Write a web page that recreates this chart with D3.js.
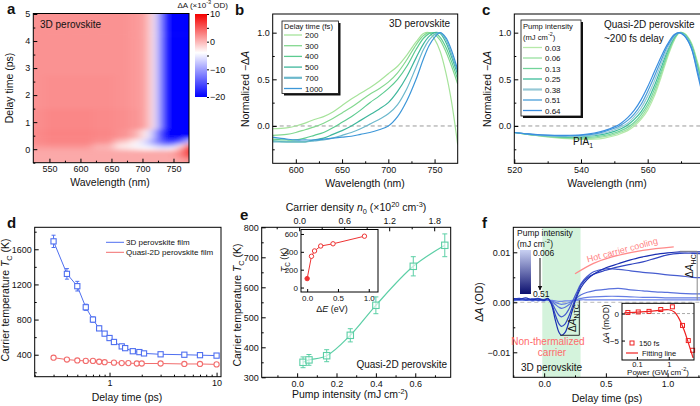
<!DOCTYPE html>
<html lang="en">
<head>
<meta charset="UTF-8">
<title>Hot carrier cooling</title>
<script src="https://d3js.org/d3.v7.min.js"></script>
<style>
  body { margin: 0; background: #fff; }
  svg text { font-family: "Liberation Sans", Arial, sans-serif; }
</style>
</head>
<body>
<svg id="fig"></svg>
<script>
// ---------- data ----------
// a: transient absorption map, x10^-3 OD
const mapWl = [524, 560, 600, 640, 670, 690, 705, 714, 720, 726, 735, 750, 762, 775];
const mapDelay = [-0.5, -0.1, 0.05, 0.15, 0.3, 0.5, 1, 2, 3.5, 5];
const mapRows = [
  [0.8, 0.8, 0.8, 0.8, 0.8, 0.8, 0.8, 0.8, 0.8, 0.8, 0.8, 0.8, 1.2, 2],
  [0.8, 0.8, 0.8, 0.8, 0.8, 0.8, 0.8, 0.8, 0.8, 0.8, 0.8, 1, 3, 7],
  [1.2, 1.2, 1.2, 0.2, -2, -3, -4, -4, -4.5, -5, -5, -4, 2, 10],
  [2, 2.2, 2.2, 0.5, -3, -4.5, -5.5, -6.5, -7.5, -8.5, -10, -10, -4, 6],
  [2.4, 2.8, 2.8, 2.2, -0.5, -3, -6, -9, -11, -13, -16, -17, -15, -8],
  [2.4, 2.8, 2.8, 2.6, 2, 0.5, -3, -6, -10, -14, -20, -21, -21, -20],
  [2.2, 2.6, 2.6, 2.4, 2.2, 1.8, 1.2, -1.5, -4.5, -10, -19, -22, -22, -22],
  [2, 2.2, 2.2, 2.2, 2, 1.6, 1.2, -1.5, -4.5, -10, -19, -22, -22, -22],
  [2, 2, 2, 2, 2, 1.6, 1.2, -1.5, -4.5, -10, -19, -22, -22, -22],
  [2, 2, 2, 2, 2, 1.6, 1.2, -1.5, -4.5, -10, -19, -22, -22, -22]
];

// b: normalized spectra, 3D perovskite
const specWlB = [575, 590, 600, 610, 620, 630, 640, 650, 660, 670, 680, 690, 700, 710, 720, 730, 738, 744, 750, 756, 762, 768, 775];
const delaysB = ["200", "300", "400", "500", "700", "1000"];
const colorsB = ["#a6e39b", "#84d890", "#5ccb90", "#3fb79c", "#6cb8cc", "#3d97d8"];
const specB = [
  [-0.03, -0.02, 0.0, 0.03, 0.07, 0.1, 0.15, 0.22, 0.29, 0.35, 0.41, 0.48, 0.56, 0.64, 0.76, 0.9, 0.99, 1.0, 0.93, 0.8, 0.58, 0.28, -0.2],
  [-0.1, -0.09, -0.07, -0.04, -0.01, 0.03, 0.08, 0.14, 0.2, 0.27, 0.34, 0.4, 0.47, 0.57, 0.71, 0.87, 0.97, 1.0, 0.98, 0.92, 0.8, 0.65, 0.45],
  [-0.14, -0.15, -0.15, -0.13, -0.1, -0.07, -0.02, 0.04, 0.1, 0.17, 0.25, 0.32, 0.4, 0.5, 0.64, 0.82, 0.94, 0.99, 1.0, 0.95, 0.85, 0.7, 0.5],
  [-0.16, -0.17, -0.17, -0.17, -0.15, -0.13, -0.09, -0.05, 0.0, 0.06, 0.12, 0.18, 0.25, 0.37, 0.53, 0.73, 0.88, 0.96, 1.0, 0.99, 0.9, 0.75, 0.55],
  [-0.17, -0.17, -0.17, -0.17, -0.16, -0.15, -0.13, -0.1, -0.07, -0.03, 0.02, 0.07, 0.13, 0.23, 0.4, 0.63, 0.82, 0.92, 0.98, 1.0, 0.93, 0.78, 0.58],
  [-0.12, -0.14, -0.15, -0.15, -0.15, -0.14, -0.13, -0.12, -0.11, -0.09, -0.07, -0.04, 0.0, 0.1, 0.27, 0.5, 0.72, 0.86, 0.95, 1.0, 0.95, 0.82, 0.6]
];

// c: normalized spectra, quasi-2D perovskite, ~200 fs
const specWlC = [520, 524, 528, 532, 536, 540, 544, 547, 550, 552, 554, 556, 558, 560, 562, 564, 566, 568, 569.5, 571, 573, 575, 576.5];
const pumpC = ["0.03", "0.06", "0.13", "0.25", "0.38", "0.51", "0.64"];
const colorsC = ["#b6e9a9", "#98e0a0", "#72d49a", "#3dbd9a", "#96c8d6", "#4a9ed8", "#3a8ee0"];
const specC = [
  [-0.07, -0.09, -0.11, -0.125, -0.137, -0.144, -0.142, -0.13, -0.105, -0.08, -0.05, 0.0, 0.07, 0.17, 0.32, 0.52, 0.74, 0.92, 1.0, 0.99, 0.9, 0.68, 0.5],
  [-0.07, -0.09, -0.107, -0.121, -0.131, -0.135, -0.13, -0.115, -0.09, -0.065, -0.035, 0.02, 0.09, 0.2, 0.35, 0.55, 0.76, 0.93, 1.0, 0.99, 0.89, 0.66, 0.47],
  [-0.07, -0.09, -0.105, -0.117, -0.124, -0.126, -0.118, -0.102, -0.075, -0.05, -0.015, 0.04, 0.12, 0.23, 0.39, 0.58, 0.78, 0.94, 1.0, 0.985, 0.88, 0.64, 0.44],
  [-0.07, -0.088, -0.102, -0.112, -0.117, -0.116, -0.105, -0.088, -0.058, -0.03, 0.01, 0.07, 0.15, 0.27, 0.43, 0.62, 0.81, 0.95, 1.0, 0.98, 0.87, 0.62, 0.41],
  [-0.07, -0.087, -0.1, -0.108, -0.11, -0.108, -0.095, -0.075, -0.04, -0.01, 0.03, 0.1, 0.19, 0.32, 0.48, 0.66, 0.83, 0.96, 1.0, 0.975, 0.86, 0.6, 0.38],
  [-0.07, -0.085, -0.097, -0.103, -0.105, -0.1, -0.085, -0.06, -0.025, 0.01, 0.06, 0.13, 0.23, 0.37, 0.53, 0.7, 0.86, 0.97, 1.0, 0.97, 0.85, 0.58, 0.35],
  [-0.07, -0.085, -0.095, -0.1, -0.1, -0.095, -0.075, -0.05, -0.01, 0.03, 0.09, 0.17, 0.28, 0.42, 0.58, 0.74, 0.88, 0.98, 1.0, 0.965, 0.84, 0.55, 0.32]
];

// d: carrier temperature vs delay
const delayBlue = [0.3, 0.4, 0.5, 0.6, 0.7, 0.8, 0.9, 1.0, 1.1, 1.3, 1.4, 1.65, 1.9, 2.1, 3, 5, 7, 10];
const tempBlue = [1690, 1320, 1180, 940, 800, 700, 640, 590, 545, 495, 475, 440, 430, 415, 405, 400, 395, 390];
const errBlue = [70, 60, 55, 35, 30, 25, 20, 15, 15, 15, 12, 12, 10, 10, 10, 10, 10, 10];
const delayRed = [0.3, 0.4, 0.5, 0.6, 0.7, 0.8, 0.9, 1.1, 1.3, 1.5, 1.8, 2.0, 3, 5, 7, 10];
const tempRed = [366, 345, 335, 330, 330, 320, 315, 310, 305, 305, 300, 300, 300, 295, 295, 290];

// e: carrier temperature vs pump intensity (quasi-2D)
const pumpE = [0.03, 0.06, 0.15, 0.27, 0.4, 0.59, 0.75];
const tempE = [350, 358, 372, 440, 540, 670, 740];
const errE = [18, 18, 20, 22, 28, 32, 38];
const deltaE = [0, 0.07, 0.12, 0.22, 0.42, 0.93];
const tempInsetE = [100, 350, 410, 465, 490, 575];

// f: kinetics at the bandgap, x10^-3 OD
const delayF = [-0.25, -0.2, -0.15, -0.1, -0.05, 0, 0.03, 0.06, 0.09, 0.12, 0.14, 0.17, 0.2, 0.23, 0.26, 0.3, 0.35, 0.4, 0.5, 0.6, 0.7, 0.8, 0.9, 1.0, 1.1, 1.2, 1.3];
const pumpF = [0.006, 0.06, 0.13, 0.25, 0.38, 0.51];
const kinF = [
  [0.5, 0.4, 0.6, 0.4, 0.5, 0.3, 0.5, 0.4, 0.3, 0.2, 0.2, 0.3, 0.3, 0.4, 0.4, 0.5, 0.5, 0.5, 0.5, 0.5, 0.5, 0.5, 0.5, 0.5, 0.5, 0.5, 0.5],
  [0.3, 0.5, 0.4, 0.6, 0.3, 0.5, 0.4, 0.3, 0.0, -0.3, -0.4, -0.3, -0.1, 0.2, 0.5, 0.8, 1.0, 1.1, 1.2, 1.2, 1.1, 1.0, 1.0, 0.9, 0.9, 0.9, 0.9],
  [0.4, 0.5, 0.6, 0.3, 0.5, 0.4, 0.5, 0.2, -0.4, -1.0, -1.2, -1.0, -0.5, 0.2, 0.8, 1.5, 2.0, 2.3, 2.6, 2.8, 2.5, 2.3, 2.1, 2.0, 1.8, 1.7, 1.7],
  [0.5, 0.7, 0.4, 0.6, 0.8, 0.5, 0.6, 0.0, -1.4, -2.6, -2.9, -2.5, -1.4, 0.2, 1.8, 3.8, 5.2, 6.1, 6.7, 6.6, 6.3, 6.0, 5.8, 5.5, 5.3, 5.0, 4.9],
  [0.6, 0.8, 0.5, 0.7, 0.4, 0.6, 0.7, -0.3, -2.5, -4.3, -4.8, -4.3, -2.8, -0.8, 1.2, 3.5, 4.9, 5.6, 6.4, 7.1, 7.6, 8.1, 8.8, 9.5, 9.8, 9.8, 9.7],
  [0.8, 0.6, 0.9, 0.5, 0.7, 0.4, 0.8, -0.5, -3.5, -6.0, -6.6, -6.0, -4.0, -1.5, 0.8, 3.0, 4.6, 5.6, 6.9, 7.7, 8.5, 9.1, 9.6, 9.9, 10.1, 10.1, 10.1]
];
// f inset: signal at 150 fs vs power (mOD)
const powerF = [0.052, 0.11, 0.24, 0.56, 1.3, 2.7, 4.1, 5.6];
const signalF = [0.2, 0.3, 0.4, 0.75, 1.25, -2.2, -5.0, -6.8];
const fitPower = [0.04, 0.1, 0.3, 0.6, 1.0, 1.5, 2, 3, 4, 5, 5.8];
const fitSignal = [0.15, 0.25, 0.45, 0.65, 0.7, 0.3, -0.7, -3.0, -5.2, -7.0, -8.2];

// ---------- helpers ----------
const svg = d3.select("#fig").attr("width", 700).attr("height", 406);
const defs = svg.append("defs");

function axis(gen, tx, ty, values, fmt, size, pad) {
  const g = svg.append("g").attr("transform", `translate(${tx},${ty})`)
    .call(gen.tickValues(values).tickSizeInner(-size).tickSizeOuter(0).tickPadding(pad || 3)
      .tickFormat(fmt === undefined ? null : fmt));
  g.select(".domain").remove();
  g.selectAll("line").attr("stroke", "#000");
  g.selectAll("text").attr("font-size", 9).attr("fill", "#111");
  return g;
}
const none = () => "";

function frame(x0, y0, x1, y1) {
  svg.append("rect").attr("x", x0).attr("y", y0).attr("width", x1 - x0).attr("height", y1 - y0)
    .attr("fill", "none").attr("stroke", "#000").attr("stroke-width", 1);
}

function label(x, y, parts, o = {}) {
  const size = o.size || 10.5;
  const t = svg.append("text").attr("x", x).attr("y", y)
    .attr("font-size", size).attr("text-anchor", o.anchor || "middle")
    .attr("fill", o.color || "#111");
  if (o.rotate) t.attr("transform", `rotate(${o.rotate},${x},${y})`);
  if (o.bold) t.attr("font-weight", "bold");
  let shift = 0;
  (typeof parts === "string" ? [[parts]] : parts).forEach(([s, st]) => {
    const sp = t.append("tspan").text(s);
    const target = st === "sub" ? 3 : st === "sup" ? -4 : 0;
    if (target !== shift) { sp.attr("dy", target - shift); shift = target; }
    if (st === "sub" || st === "sup") sp.attr("font-size", size * 0.7);
    if (st === "i") sp.attr("font-style", "italic");
  });
  return t;
}

function clip(id, x0, y0, x1, y1) {
  defs.append("clipPath").attr("id", id).append("rect")
    .attr("x", x0).attr("y", y0).attr("width", x1 - x0).attr("height", y1 - y0);
  return `url(#${id})`;
}

// ---------- panel a ----------
const xa = d3.scaleLinear([524, 775], [33.3, 189]);
const ya = d3.scaleLinear([-0.5, 5], [162.7, 14]);
const colA = d3.scaleLinear([-20, -4, 10], ["#0000ff", "#ffffff", "#f40000"]).clamp(true);

defs.append("filter").attr("id", "blurA").attr("filterUnits", "userSpaceOnUse")
  .attr("x", 0).attr("y", 0).attr("width", 250).attr("height", 200)
  .append("feGaussianBlur").attr("stdDeviation", "5 2.2");

const gMap = svg.append("g").attr("clip-path", clip("clipA", 33.3, 13.5, 189, 162.7))
  .append("g").attr("filter", "url(#blurA)");
mapRows.forEach((row, i) => {
  const t = mapDelay[i];
  const tLo = i === 0 ? t - 0.4 : (t + mapDelay[i - 1]) / 2;
  const tHi = i === mapDelay.length - 1 ? t + 0.4 : (t + mapDelay[i + 1]) / 2;
  row.forEach((v, j) => {
    const w = mapWl[j];
    const wLo = j === 0 ? w - 20 : (w + mapWl[j - 1]) / 2;
    const wHi = j === mapWl.length - 1 ? w + 20 : (w + mapWl[j + 1]) / 2;
    gMap.append("rect")
      .attr("x", xa(wLo)).attr("y", ya(tHi))
      .attr("width", xa(wHi) - xa(wLo) + 0.5).attr("height", ya(tLo) - ya(tHi) + 0.5)
      .attr("fill", colA(v));
  });
});
frame(33.3, 13.5, 189, 162.7);
axis(d3.axisBottom(xa), 0, 162.7, [550, 600, 650, 700, 750], d3.format("d"), 4);
axis(d3.axisBottom(xa), 0, 162.7, [575, 625, 675, 725], none, 2);
axis(d3.axisLeft(ya), 33.3, 0, [0, 1, 2, 3, 4, 5], d3.format("d"), 4);
axis(d3.axisLeft(ya), 33.3, 0, [-0.5, 0.5, 1.5, 2.5, 3.5, 4.5], none, 2);
label(40, 28, "3D perovskite", { anchor: "start", size: 10 });
label(110, 186, "Wavelength (nm)");
label(13, 88, "Delay time (ps)", { rotate: -90 });

// colorbar
const cb = d3.scaleLinear([-20, 10], [97, 14]);
const grad = defs.append("linearGradient").attr("id", "cbA")
  .attr("x1", 0).attr("y1", 1).attr("x2", 0).attr("y2", 0);
d3.range(-20, 10.1, 2).forEach(v => {
  grad.append("stop").attr("offset", (v + 20) / 30).attr("stop-color", colA(v));
});
svg.append("rect").attr("x", 195).attr("y", 14).attr("width", 12).attr("height", 83)
  .attr("fill", "url(#cbA)");
axis(d3.axisRight(cb), 207, 0, [10, 0, -10, -20], d3.format("d"), 0)
  .selectAll("text").attr("x", 3);
axis(d3.axisLeft(cb), 207, 0, [10, 5, 0, -5, -10, -15, -20], none, 2);
label(228, 8, [["ΔA (×10"], ["-3", "sup"], [" OD)"]], { anchor: "end", size: 8 });

// ---------- panel b ----------
const xb = d3.scaleLinear([575, 775], [272.7, 457.7]);
const yb = d3.scaleLinear([-0.4, 1.2], [163.3, 14]);
const lineB = d3.line().curve(d3.curveCatmullRom);
const gB = svg.append("g").attr("clip-path", clip("clipB", 272.7, 14, 457.7, 163.3));
gB.append("line").attr("x1", xb(575)).attr("x2", xb(775)).attr("y1", yb(0)).attr("y2", yb(0))
  .attr("stroke", "#999").attr("stroke-dasharray", "4,3");
specB.forEach((s, i) => {
  gB.append("path").attr("fill", "none").attr("stroke", colorsB[i]).attr("stroke-width", 1.2)
    .attr("d", lineB(s.map((v, k) => [xb(specWlB[k]), yb(v)])));
});
frame(272.7, 14, 457.7, 163.3);
axis(d3.axisBottom(xb), 0, 163.3, [600, 650, 700, 750], d3.format("d"), 4);
axis(d3.axisBottom(xb), 0, 163.3, [625, 675, 725], none, 2);
axis(d3.axisLeft(yb), 272.7, 0, [0, 0.5, 1.0], d3.format(".1f"), 4);
axis(d3.axisLeft(yb), 272.7, 0, [-0.25, 0.25, 0.75], none, 2);
label(365, 187, "Wavelength (nm)");
label(249, 89, [["Normalized −Δ"], ["A", "i"]], { rotate: -90 });
label(389, 27, "3D perovskite", { anchor: "start", size: 10 });

// legend b
svg.append("rect").attr("x", 284).attr("y", 23).attr("width", 56.5).attr("height", 72.5).attr("fill", "#111");
svg.append("rect").attr("x", 282).attr("y", 21).attr("width", 56.5).attr("height", 72.5)
  .attr("fill", "#fff").attr("stroke", "#111").attr("stroke-width", 0.8);
label(284, 29, "Delay time (fs)", { anchor: "start", size: 7.6 });
delaysB.forEach((d, i) => {
  const y = 35 + i * 10.7;
  svg.append("line").attr("x1", 284).attr("x2", 302).attr("y1", y).attr("y2", y)
    .attr("stroke", colorsB[i]).attr("stroke-width", i === 4 ? 2.2 : 1.3);
  label(305, y + 3, d, { anchor: "start", size: 8 });
});

// ---------- panel c ----------
const xc = d3.scaleLinear([520, 576.5], [514.3, 702.7]);
const yc = d3.scaleLinear([-0.4, 1.2], [163.3, 14]);
const gC = svg.append("g").attr("clip-path", clip("clipC", 514.3, 14, 702.7, 163.3));
gC.append("line").attr("x1", xc(520)).attr("x2", xc(576.5)).attr("y1", yc(0)).attr("y2", yc(0))
  .attr("stroke", "#999").attr("stroke-dasharray", "4,3");
specC.forEach((s, i) => {
  gC.append("path").attr("fill", "none").attr("stroke", colorsC[i]).attr("stroke-width", 1.2)
    .attr("d", lineB(s.map((v, k) => [xc(specWlC[k]), yc(v)])));
});
frame(514.3, 14, 702.7, 163.3);
axis(d3.axisBottom(xc), 0, 163.3, [520, 540, 560], d3.format("d"), 4);
axis(d3.axisBottom(xc), 0, 163.3, [530, 550, 570], none, 2);
axis(d3.axisLeft(yc), 514.3, 0, [0, 0.5, 1.0], d3.format(".1f"), 4);
axis(d3.axisLeft(yc), 514.3, 0, [-0.25, 0.25, 0.75], none, 2);
label(607, 187, "Wavelength (nm)");
label(491, 89, [["Normalized −Δ"], ["A", "i"]], { rotate: -90 });
label(604, 28, "Quasi-2D perovskite", { anchor: "start", size: 10 });
label(604, 42, "~200 fs delay", { anchor: "start", size: 10 });
label(573, 145, [["PIA"], ["1", "sub"]], { anchor: "start", size: 10 });

svg.append("rect").attr("x", 523).attr("y", 22).attr("width", 60).attr("height", 96).attr("fill", "#111");
svg.append("rect").attr("x", 521).attr("y", 20).attr("width", 60).attr("height", 96)
  .attr("fill", "#fff").attr("stroke", "#111").attr("stroke-width", 0.8);
label(523, 29, "Pump intensity", { anchor: "start", size: 7.6 });
label(523, 40, [["(mJ cm"], ["-2", "sup"], [")"]], { anchor: "start", size: 7.6 });
pumpC.forEach((d, i) => {
  const y = 47.5 + i * 10.5;
  svg.append("line").attr("x1", 523).attr("x2", 542).attr("y1", y).attr("y2", y)
    .attr("stroke", colorsC[i]).attr("stroke-width", i === 4 ? 2.2 : 1.3);
  label(545, y + 3, d, { anchor: "start", size: 8 });
});

// ---------- panel d ----------
const xd = d3.scaleLog([0.2, 11], [34.7, 221]);
const yd = d3.scaleLinear([150, 1850], [376.7, 227.3]);
const blueD = "#4f6ff0", redD = "#f26d6d";
const lineD = d3.line();
svg.append("path").attr("fill", "none").attr("stroke", redD).attr("stroke-width", 1)
  .attr("d", lineD(delayRed.map((d, i) => [xd(d), yd(tempRed[i])])));
svg.append("path").attr("fill", "none").attr("stroke", blueD).attr("stroke-width", 1)
  .attr("d", lineD(delayBlue.map((d, i) => [xd(d), yd(tempBlue[i])])));
delayBlue.forEach((d, i) => {
  const x = xd(d);
  svg.append("line").attr("x1", x).attr("x2", x)
    .attr("y1", yd(tempBlue[i] - errBlue[i])).attr("y2", yd(tempBlue[i] + errBlue[i]))
    .attr("stroke", blueD);
  [-1, 1].forEach(s => svg.append("line").attr("x1", x - 2).attr("x2", x + 2)
    .attr("y1", yd(tempBlue[i] + s * errBlue[i])).attr("y2", yd(tempBlue[i] + s * errBlue[i]))
    .attr("stroke", blueD));
});
svg.append("g").selectAll("circle").data(delayRed).join("circle")
  .attr("cx", d => xd(d)).attr("cy", (d, i) => yd(tempRed[i])).attr("r", 2.6)
  .attr("fill", "#fff").attr("stroke", redD).attr("stroke-width", 1.1);
svg.append("g").selectAll("rect").data(delayBlue).join("rect")
  .attr("x", d => xd(d) - 2.6).attr("y", (d, i) => yd(tempBlue[i]) - 2.6)
  .attr("width", 5.2).attr("height", 5.2)
  .attr("fill", "#fff").attr("stroke", blueD).attr("stroke-width", 1.1);
frame(34.7, 227.3, 221, 376.7);
axis(d3.axisBottom(xd), 0, 376.7, [1, 10], d3.format("d"), 4);
axis(d3.axisBottom(xd), 0, 376.7, [0.2, 0.3, 0.4, 0.5, 0.6, 0.7, 0.8, 0.9, 2, 3, 4, 5, 6, 7, 8, 9], none, 2);
axis(d3.axisLeft(yd), 34.7, 0, [400, 800, 1200, 1600], d3.format("d"), 4);
axis(d3.axisLeft(yd), 34.7, 0, [200, 600, 1000, 1400, 1800], none, 2);
label(127, 401, "Delay time (ps)");
label(9, 300, [["Carrier temperature  "], ["T", "i"], ["C", "sub"], [" (K)"]], { rotate: -90 });
[[blueD, "3D perovskite film", 242.3], [redD, "Quasi-2D perovskite film", 252.3]].forEach(([c, s, y]) => {
  svg.append("line").attr("x1", 106).attr("x2", 124).attr("y1", y).attr("y2", y).attr("stroke", c);
  label(126, y + 3, s, { anchor: "start", size: 8 });
});

// ---------- panel e ----------
const xe = d3.scaleLinear([-0.18, 0.78], [261.7, 450.7]);
const xeTop = d3.scaleLinear([-0.5, 2.02], [261.7, 450.7]);
const ye = d3.scaleLinear([300, 800], [377.3, 227.3]);
const tealE = "#5ccfa6";
svg.append("path").attr("fill", "none").attr("stroke", tealE).attr("stroke-width", 1.2)
  .attr("d", d3.line().curve(d3.curveCatmullRom)(pumpE.map((p, i) => [xe(p), ye(tempE[i])])));
pumpE.forEach((p, i) => {
  const x = xe(p);
  svg.append("line").attr("x1", x).attr("x2", x)
    .attr("y1", ye(tempE[i] - errE[i])).attr("y2", ye(tempE[i] + errE[i])).attr("stroke", tealE);
  [-1, 1].forEach(s => svg.append("line").attr("x1", x - 2.5).attr("x2", x + 2.5)
    .attr("y1", ye(tempE[i] + s * errE[i])).attr("y2", ye(tempE[i] + s * errE[i])).attr("stroke", tealE));
});
svg.append("g").selectAll("rect").data(pumpE).join("rect")
  .attr("x", d => xe(d) - 3.2).attr("y", (d, i) => ye(tempE[i]) - 3.2)
  .attr("width", 6.4).attr("height", 6.4)
  .attr("fill", "#fff").attr("fill-opacity", 0.6).attr("stroke", tealE).attr("stroke-width", 1.1);
frame(261.7, 227.3, 450.7, 377.3);
axis(d3.axisBottom(xe), 0, 377.3, [0, 0.2, 0.4, 0.6], d3.format(".1f"), 4);
axis(d3.axisBottom(xe), 0, 377.3, [-0.1, 0.1, 0.3, 0.5, 0.7], none, 2);
axis(d3.axisTop(xeTop), 0, 227.3, [0, 0.6, 1.2, 1.8], d3.format(".1f"), 4);
axis(d3.axisTop(xeTop), 0, 227.3, [-0.3, 0.3, 0.9, 1.5], none, 2);
axis(d3.axisLeft(ye), 261.7, 0, [300, 400, 500, 600, 700, 800], d3.format("d"), 4);
axis(d3.axisLeft(ye), 261.7, 0, [350, 450, 550, 650, 750], none, 2);
label(350, 398, [["Pump intensity (mJ cm"], ["-2", "sup"], [")"]]);
label(356, 211, [["Carrier density  "], ["n", "i"], ["0", "sub"], [" (×10"], ["20", "sup"], [" cm"], ["-3", "sup"], [")"]]);
label(241, 305, [["Carrier temperature  "], ["T", "i"], ["C", "sub"], [" (K)"]], { rotate: -90 });
label(447, 368, "Quasi-2D perovskite", { anchor: "end", size: 10 });

// inset e
const xei = d3.scaleLinear([-0.1, 1.15], [301, 378]);
const yei = d3.scaleLinear([-50, 650], [292, 229.5]);
svg.append("rect").attr("x", 301).attr("y", 229.5).attr("width", 77).attr("height", 62.5).attr("fill", "#fff");
svg.append("path").attr("fill", "none").attr("stroke", "#e33").attr("stroke-width", 1)
  .attr("d", d3.line()(deltaE.map((d, i) => [xei(d), yei(tempInsetE[i])])));
svg.append("g").selectAll("circle").data(deltaE).join("circle")
  .attr("cx", d => xei(d)).attr("cy", (d, i) => yei(tempInsetE[i])).attr("r", 2.2)
  .attr("fill", (d, i) => i === 0 ? "#e33" : "#fff").attr("stroke", "#e33");
frame(301, 229.5, 378, 292);
axis(d3.axisBottom(xei), 0, 292, [0, 0.5, 1.0], d3.format(".1f"), 3).selectAll("text").attr("font-size", 8);
axis(d3.axisLeft(yei), 301, 0, [0, 200, 400, 600], d3.format("d"), 3).selectAll("text").attr("font-size", 8);
label(332, 312, [["Δ"], ["E", "i"], [" (eV)"]], { size: 9 });
label(287, 260, [["T", "i"], ["C", "sub"], [" (K)"]], { rotate: -90, size: 9 });

// ---------- panel f ----------
const xf = d3.scaleLinear([-0.25, 1.3], [513.3, 704.6]);
const yf = d3.scaleLinear([-15, 15], [377.3, 227.3]);
const colF = d3.scaleLinear([0.006, 0.51], ["#6f86ea", "#1b2fb2"]);
const gF = svg.append("g").attr("clip-path", clip("clipF", 513.3, 227.3, 704.6, 377.3));
gF.append("rect").attr("x", xf(-0.015)).attr("width", xf(0.295) - xf(-0.015))
  .attr("y", 227.3).attr("height", 150).attr("fill", "#d4f3dc");
gF.append("line").attr("x1", xf(-0.25)).attr("x2", xf(1.3)).attr("y1", yf(0)).attr("y2", yf(0))
  .attr("stroke", "#bbb").attr("stroke-dasharray", "4,3");
kinF.forEach((s, i) => {
  gF.append("path").attr("fill", "none").attr("stroke", colF(pumpF[i])).attr("stroke-width", 1.2)
    .attr("d", d3.line().curve(d3.curveCatmullRom)(s.map((v, k) => [xf(delayF[k]), yf(v)])));
});
// brackets
gF.append("path").attr("fill", "none").attr("stroke", "#333").attr("stroke-width", 1)
  .attr("d", `M${xf(0.13)},${yf(-6.6)}H${xf(0.285)}V${yf(0.4)}`);
gF.append("path").attr("fill", "none").attr("stroke", "#888").attr("stroke-width", 1)
  .attr("d", `M${xf(1.1)},${yf(10.2)}H${xf(1.24)}V${yf(0.4)}`);
frame(513.3, 227.3, 704.6, 377.3);
axis(d3.axisBottom(xf), 0, 377.3, [0, 0.5, 1.0], d3.format(".1f"), 4);
axis(d3.axisBottom(xf), 0, 377.3, [-0.25, 0.25, 0.75, 1.25], none, 2);
axis(d3.axisLeft(yf), 513.3, 0, [-10, 0, 10], v => v === 0 ? "0.00" : d3.format(".2f")(v / 1000), 4);
axis(d3.axisLeft(yf), 513.3, 0, [-5, 5], none, 2);
label(607, 402, "Delay time (ps)");
label(483, 302, [["Δ"], ["A", "i"], [" (OD)"]], { rotate: -90 });
label(576, 318, [["Δ"], ["A", "i"], ["NTC", "sub"]], { rotate: -90, size: 10 });
label(693, 266, [["Δ"], ["A", "i"], ["HC", "sub"]], { rotate: -90, size: 10 });
label(548, 345, "Non-thermalized", { color: "#ff6b6b", size: 10 });
label(552, 356, "carrier", { color: "#ff6b6b", size: 10 });
label(521, 371, "3D perovskite", { anchor: "start", size: 10 });
// hot carrier arrow
svg.append("path").attr("fill", "none").attr("stroke", "#ff8a8a").attr("stroke-width", 1.3)
  .attr("d", d3.line().curve(d3.curveCatmullRom)([[0.25, 5.7], [0.4, 7.8], [0.55, 9.1], [0.8, 10.4], [1.05, 11.1]].map(p => [xf(p[0]), yf(p[1])])));
label(623, 253, "Hot carrier cooling", { color: "#ff7f7f", size: 9, rotate: -15 });

// pump colorbar
const gradF = defs.append("linearGradient").attr("id", "cbF").attr("x1", 0).attr("y1", 0).attr("x2", 0).attr("y2", 1);
gradF.append("stop").attr("offset", 0).attr("stop-color", "#c8d0f2");
gradF.append("stop").attr("offset", 1).attr("stop-color", "#0b0f6e");
svg.append("rect").attr("x", 520).attr("y", 250).attr("width", 11).attr("height", 44).attr("fill", "url(#cbF)");
label(517, 236, "Pump intensity", { anchor: "start", size: 8.5 });
label(517, 246.5, [["(mJ cm"], ["-2", "sup"], [")"]], { anchor: "start", size: 8.5 });
label(533, 256, "0.006", { anchor: "start", size: 8.5 });
label(533, 297, "0.51", { anchor: "start", size: 8.5 });
defs.append("marker").attr("id", "arr").attr("viewBox", "0 0 10 10").attr("refX", 9).attr("refY", 5)
  .attr("markerWidth", 5).attr("markerHeight", 5).attr("orient", "auto")
  .append("path").attr("d", "M0,0L10,5L0,10z").attr("fill", "#111");
svg.append("line").attr("x1", 540).attr("x2", 540).attr("y1", 258).attr("y2", 290)
  .attr("stroke", "#111").attr("marker-end", "url(#arr)");

// inset f
const xfi = d3.scaleLog([0.034, 6.2], [622, 694]);
const yfi = d3.scaleLinear([-8.6, 1.9], [360, 303.3]);
svg.append("rect").attr("x", 622).attr("y", 303.3).attr("width", 72).attr("height", 56.7).attr("fill", "#fff");
svg.append("line").attr("x1", 622).attr("x2", 694).attr("y1", yfi(0)).attr("y2", yfi(0))
  .attr("stroke", "#aaa").attr("stroke-dasharray", "3,2");
svg.append("path").attr("fill", "none").attr("stroke", "#e22").attr("stroke-width", 1.2)
  .attr("d", d3.line().curve(d3.curveCatmullRom)(fitPower.map((p, i) => [xfi(p), yfi(fitSignal[i])])));
svg.append("g").selectAll("rect").data(powerF).join("rect")
  .attr("x", d => xfi(d) - 2).attr("y", (d, i) => yfi(signalF[i]) - 2).attr("width", 4).attr("height", 4)
  .attr("fill", "none").attr("stroke", "#e22").attr("stroke-width", 1);
frame(622, 303.3, 694, 360);
axis(d3.axisBottom(xfi), 0, 360, [0.1, 1], v => v === 1 ? "1" : "0.1", 3, 1.5).selectAll("text").attr("font-size", 7.5);
axis(d3.axisLeft(yfi), 622, 0, [0, -5], d3.format("d"), 3).selectAll("text").attr("font-size", 8);
label(658, 375, [["Power (GW cm"], ["-2", "sup"], [")"]], { size: 8 });
label(609, 324, [["Δ"], ["A", "i"], [" (mOD)"]], { rotate: -90, size: 8.5 });
svg.append("rect").attr("x", 630).attr("y", 341).attr("width", 4).attr("height", 4)
  .attr("fill", "none").attr("stroke", "#e22");
label(639, 346, "150 fs", { anchor: "start", size: 7.5 });
svg.append("line").attr("x1", 626).attr("x2", 638).attr("y1", 353).attr("y2", 353).attr("stroke", "#e22").attr("stroke-width", 1.2);
label(642, 356, "Fitting line", { anchor: "start", size: 7.5 });

// ---------- panel letters ----------
[["a", 7, 14], ["b", 235, 15], ["c", 482, 15], ["d", 7, 228], ["e", 240, 220], ["f", 482, 228]]
  .forEach(([s, x, y]) => label(x, y, s, { anchor: "start", size: 15, bold: true }));
</script>
</body>
</html>
